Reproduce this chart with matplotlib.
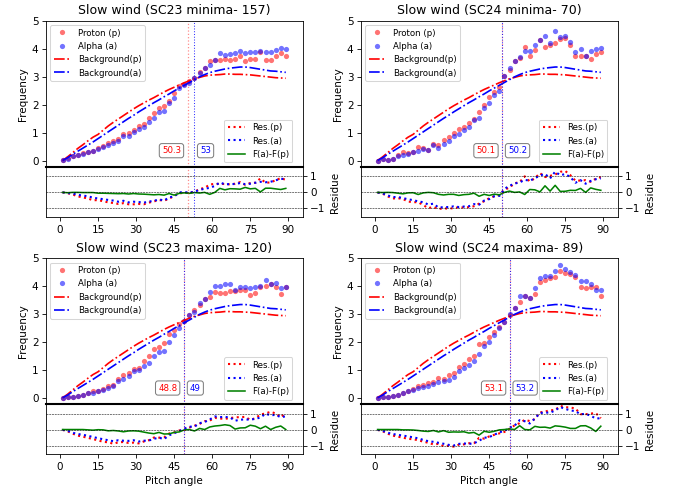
import numpy as np
import matplotlib
matplotlib.use('Agg')
import matplotlib.pyplot as plt

# ---------------- data ----------------
angles = np.arange(1, 90, 2)

bg_p = [0.02, 0.15, 0.30, 0.45, 0.58, 0.72, 0.85, 0.95, 1.10, 1.25, 1.38, 1.50, 1.62, 1.74, 1.86,
        1.97, 2.07, 2.17, 2.26, 2.36, 2.46, 2.55, 2.63, 2.71, 2.79, 2.86, 2.93, 2.98, 3.03, 3.06,
        3.07, 3.08, 3.10, 3.10, 3.09, 3.09, 3.08, 3.07, 3.05, 3.03, 3.01, 2.99, 2.97, 2.96, 2.95]
bg_a = [0.02, 0.12, 0.24, 0.35, 0.46, 0.57, 0.68, 0.80, 0.92, 1.04, 1.16, 1.28, 1.40, 1.52, 1.63,
        1.75, 1.86, 1.97, 2.08, 2.18, 2.29, 2.39, 2.50, 2.60, 2.70, 2.80, 2.90, 3.00, 3.08, 3.15,
        3.20, 3.24, 3.28, 3.31, 3.33, 3.35, 3.35, 3.33, 3.30, 3.27, 3.24, 3.21, 3.20, 3.18, 3.16]

titles = ['Slow wind (SC23 minima- 157)', 'Slow wind (SC24 minima- 70)',
          'Slow wind (SC23 maxima- 120)', 'Slow wind (SC24 maxima- 89)']

p1_proton = [0.02, 0.10, 0.17, 0.20, 0.27, 0.34, 0.36, 0.47, 0.55, 0.63, 0.72, 0.78, 0.95, 1.00, 1.12,
             1.25, 1.33, 1.53, 1.70, 1.88, 1.95, 2.15, 2.42, 2.66, 2.75, 2.84, 2.96, 3.19, 3.31, 3.55,
             3.60, 3.61, 3.62, 3.60, 3.63, 3.73, 3.55, 3.65, 3.65, 3.90, 3.61, 3.61, 3.73, 3.85, 3.73]
p1_alpha = [0.02, 0.08, 0.17, 0.20, 0.26, 0.33, 0.35, 0.42, 0.50, 0.57, 0.65, 0.70, 0.88, 0.90, 1.05,
            1.15, 1.22, 1.40, 1.55, 1.75, 1.78, 2.08, 2.25, 2.60, 2.72, 2.78, 2.95, 3.15, 3.31, 3.43,
            3.60, 3.86, 3.78, 3.83, 3.85, 3.93, 3.86, 3.87, 3.90, 3.93, 3.87, 3.87, 3.95, 4.03, 3.98]

p2_proton = [0.01, 0.07, 0.05, 0.07, 0.22, 0.31, 0.28, 0.34, 0.49, 0.46, 0.40, 0.60, 0.58, 0.76, 0.84,
             1.00, 1.14, 1.23, 1.34, 1.50, 1.76, 2.00, 2.27, 2.47, 2.63, 3.02, 3.23, 3.55, 3.67, 4.06,
             3.75, 3.96, 4.30, 4.05, 4.12, 4.20, 4.36, 4.40, 4.12, 3.75, 3.75, 3.75, 3.63, 3.81, 3.90]
p2_alpha = [0.01, 0.06, 0.05, 0.06, 0.17, 0.22, 0.25, 0.32, 0.36, 0.43, 0.40, 0.58, 0.46, 0.60, 0.72,
            0.88, 0.95, 1.09, 1.22, 1.45, 1.52, 1.88, 2.08, 2.36, 2.48, 3.02, 3.31, 3.55, 3.70, 3.93,
            3.93, 4.12, 4.33, 4.46, 4.20, 4.64, 4.42, 4.47, 4.25, 3.87, 4.00, 3.75, 3.91, 4.00, 4.03]

p3_proton = [0.00, 0.04, 0.04, 0.07, 0.13, 0.20, 0.25, 0.27, 0.33, 0.45, 0.49, 0.70, 0.84, 0.90, 1.04,
             1.10, 1.32, 1.50, 1.76, 1.85, 1.97, 2.30, 2.45, 2.65, 2.78, 2.98, 3.17, 3.33, 3.55, 3.62,
             3.80, 3.77, 3.77, 3.82, 3.85, 3.87, 3.87, 3.68, 3.76, 3.97, 4.02, 4.10, 3.98, 3.73, 3.99]
p3_alpha = [0.00, 0.04, 0.04, 0.07, 0.13, 0.18, 0.21, 0.26, 0.31, 0.37, 0.43, 0.61, 0.70, 0.81, 0.96,
            1.00, 1.16, 1.28, 1.50, 1.67, 1.69, 2.03, 2.27, 2.50, 2.76, 2.98, 3.08, 3.40, 3.55, 3.78,
            4.02, 4.02, 4.07, 4.07, 3.88, 3.97, 3.98, 3.95, 3.97, 4.02, 4.23, 4.10, 4.12, 3.95, 3.99]

p4_proton = [0.00, 0.04, 0.04, 0.07, 0.13, 0.21, 0.27, 0.34, 0.43, 0.49, 0.55, 0.57, 0.72, 0.70, 0.84,
             0.90, 1.12, 1.24, 1.40, 1.50, 1.94, 1.98, 2.20, 2.38, 2.55, 2.71, 2.98, 3.24, 3.43, 3.67,
             3.60, 3.73, 4.17, 4.23, 4.29, 4.32, 4.56, 4.47, 4.43, 4.35, 3.97, 3.95, 3.97, 3.99, 3.66]
p4_alpha = [0.00, 0.04, 0.04, 0.07, 0.13, 0.19, 0.25, 0.31, 0.37, 0.39, 0.43, 0.51, 0.57, 0.63, 0.67,
            0.75, 0.96, 1.10, 1.18, 1.32, 1.59, 1.87, 2.03, 2.27, 2.53, 2.71, 3.02, 3.24, 3.67, 3.67,
            3.58, 3.93, 4.31, 4.38, 4.38, 4.55, 4.76, 4.62, 4.50, 4.42, 4.20, 4.19, 4.07, 3.87, 3.87]

protons = [p1_proton, p2_proton, p3_proton, p4_proton]
alphas = [p1_alpha, p2_alpha, p3_alpha, p4_alpha]
cut_p = [50.3, 50.1, 48.8, 53.1]
cut_a = [53, 50.2, 49, 53.2]
cut_p_labels = ['50.3', '50.1', '48.8', '53.1']
cut_a_labels = ['53', '50.2', '49', '53.2']
xtick_vals = [0, 15, 30, 45, 60, 75, 90]

# ---------------- figure ----------------
fig = plt.figure(figsize=(9, 494 / 75), dpi=75)
lefts = [0.0677, 0.5344]
width = 0.3807
rows = [(0.6626, 0.9581, 0.5601), (0.1822, 0.4771, 0.0804)]

bgp = np.array(bg_p)
bga = np.array(bg_a)

for i in range(4):
    r, c = divmod(i, 2)
    bot, top, rbot = rows[r]
    ax = fig.add_axes([lefts[c], bot, width, top - bot])
    axr = fig.add_axes([lefts[c], rbot, width, bot - rbot], sharex=ax)

    pr = np.array(protons[i])
    al = np.array(alphas[i])

    ax.plot(angles, pr, 'o', color='red', alpha=0.55, ms=5, mew=0, label='Proton (p)')
    ax.plot(angles, al, 'o', color='blue', alpha=0.55, ms=5, mew=0, label='Alpha (a)')
    l1, = ax.plot(angles, bgp, '-.', color='red', lw=1.6, label='Background(p)')
    l2, = ax.plot(angles, bga, '-.', color='blue', lw=1.6, label='Background(a)')
    leg1 = ax.legend(loc='upper left', fontsize='small')

    h1, = ax.plot([], [], ':', color='red', lw=2, label='Res.(p)')
    h2, = ax.plot([], [], ':', color='blue', lw=2, label='Res.(a)')
    h3, = ax.plot([], [], '-', color='green', lw=1.5, label='F(a)-F(p)')
    ax.legend(handles=[h1, h2, h3], loc='lower right', bbox_to_anchor=(0.977, 0.0),
              fontsize='small')
    ax.add_artist(leg1)

    ax.axvline(cut_p[i], color='red', ls=':', lw=1.2, alpha=0.45)
    ax.axvline(cut_a[i], color='blue', ls=':', lw=1.0, alpha=0.8)
    box = dict(boxstyle='round', fc='white', ec='gray')
    ax.text(cut_p[i] - 2.6, 0.37, cut_p_labels[i], color='red', ha='right', va='center',
            fontsize='small', bbox=box)
    ax.text(cut_a[i] + 2.2, 0.37, cut_a_labels[i], color='blue', ha='left', va='center',
            fontsize='small', bbox=box)

    ax.set_ylim(-0.2, 5)
    ax.set_yticks([0, 1, 2, 3, 4, 5])
    ax.set_ylabel('Frequency')
    ax.set_title(titles[i])
    ax.tick_params(axis='x', bottom=False, labelbottom=False)

    # residue panel
    axr.plot(angles, pr - bgp, ':', color='red', lw=2)
    axr.plot(angles, al - bga, ':', color='blue', lw=2)
    axr.plot(angles, al - pr, '-', color='green', lw=1.5)
    for yv in (-1, 0, 1):
        axr.axhline(yv, color='black', ls='--', lw=0.5)
    axr.axvline(cut_p[i], color='red', ls=':', lw=1.2, alpha=0.45)
    axr.axvline(cut_a[i], color='blue', ls=':', lw=1.0, alpha=0.8)
    axr.set_ylim(-1.55, 1.6)
    axr.set_yticks([-1, 0, 1])
    axr.yaxis.tick_right()
    axr.yaxis.set_label_position('right')
    axr.set_ylabel('Residue')
    axr.spines['top'].set_linewidth(2)
    axr.set_xticks(xtick_vals)
    axr.set_xlim(-5.65, 95.65)
    if r == 1:
        axr.set_xlabel('Pitch angle')

fig.savefig('out.png', dpi=75)
